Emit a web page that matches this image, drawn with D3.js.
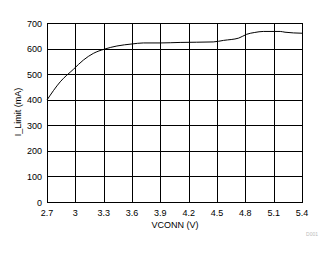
<!DOCTYPE html>
<html><head><meta charset="utf-8">
<script src="https://cdn.jsdelivr.net/npm/d3@7"></script>
<style>body{margin:0;background:#fff}svg{display:block}text{font-family:"Liberation Sans",Arial,sans-serif}</style>
</head><body>
<script>
const xTicks=[2.7,3,3.3,3.6,3.9,4.2,4.5,4.8,5.1,5.4];
const xTickLabels=["2.7","3","3.3","3.6","3.9","4.2","4.5","4.8","5.1","5.4"];
const yTicks=[0,100,200,300,400,500,600,700];
const vconn=[2.7,2.84,2.98,3.085,3.19,3.31,3.44,3.6,3.72,3.9,4.11,4.46,4.57,4.73,4.815,4.9,4.99,5.17,5.22,5.4];
const ilimit=[399,470,519,555,581,598,610,618,622,622,624,626,632,641,656,663,667,667,664,660];
const W=331,H=254,L=47,R=302,T=23,B=202;
const svg=d3.select("body").append("svg").attr("width",W).attr("height",H);
const x=d3.scaleLinear().domain([2.7,5.4]).range([L,R]);
const y=d3.scaleLinear().domain([0,700]).range([B,T]);
const g=svg.append("g");
g.selectAll(".vx").data(xTicks).enter().append("line").attr("x1",d=>Math.round(x(d))+0.5).attr("x2",d=>Math.round(x(d))+0.5).attr("y1",T).attr("y2",B).attr("stroke","#000").attr("stroke-width",1);
g.selectAll(".hy").data(yTicks).enter().append("line").attr("y1",d=>Math.round(y(d))+0.5).attr("y2",d=>Math.round(y(d))+0.5).attr("x1",L).attr("x2",R+1).attr("stroke","#000").attr("stroke-width",1);
g.append("rect").attr("x",L+0.5).attr("y",T+0.5).attr("width",R-L).attr("height",B-T).attr("fill","none").attr("stroke","#000");
svg.append("path").datum(vconn.map((v,i)=>[v,ilimit[i]])).attr("d",d3.line().x(d=>x(d[0])).y(d=>y(d[1])).curve(d3.curveMonotoneX)).attr("fill","none").attr("stroke","#000").attr("stroke-width",1);
svg.selectAll(".yl").data(yTicks).enter().append("text").attr("x",42).attr("y",d=>y(d)+3.5).attr("text-anchor","end").attr("font-size",9).text(d=>d);
svg.selectAll(".xl").data(xTicks).enter().append("text").attr("x",d=>x(d)).attr("y",216).attr("text-anchor","middle").attr("font-size",9).text((d,i)=>xTickLabels[i]);
svg.append("text").attr("x",175).attr("y",228).attr("text-anchor","middle").attr("font-size",9).text("VCONN (V)");
svg.append("text").attr("transform","translate(21,112) rotate(-90)").attr("text-anchor","middle").attr("font-size",9).text("I_Limit (mA)");
svg.append("text").attr("x",318).attr("y",236).attr("text-anchor","end").attr("font-size",5).attr("fill","#bbb").text("D001");
</script>
</body></html>
